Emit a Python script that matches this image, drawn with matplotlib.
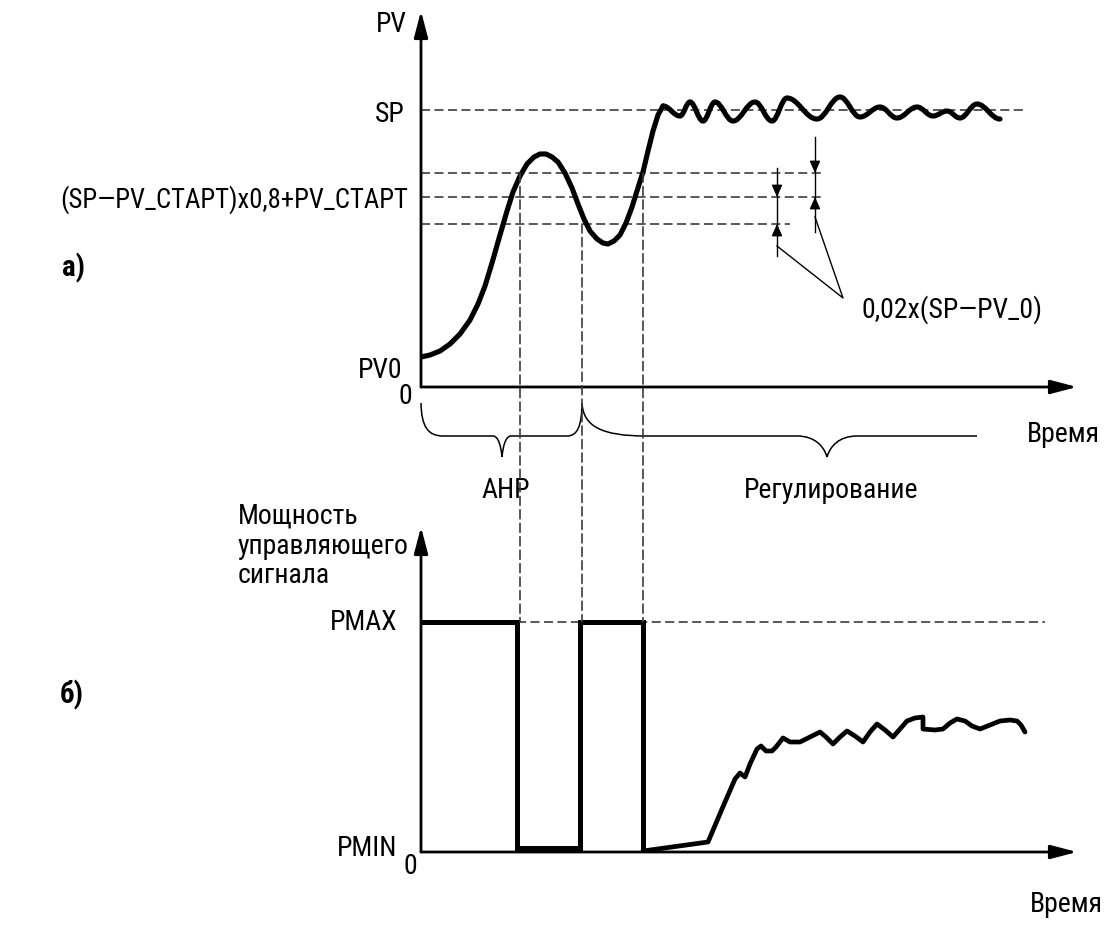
import matplotlib.pyplot as plt
from matplotlib import font_manager
from matplotlib.patches import ConnectionPatch, PathPatch
from matplotlib.path import Path

# ---- значения: время от начала координат, величины от оси времени ----
# а) процесс PV(t): разгон до первого выхода на SP
pv_t = [0, 9, 19, 29, 39, 49, 57, 64, 71, 79, 86, 92, 99, 106, 113, 119, 125, 131, 137, 144,
        151, 157, 163, 169, 176, 182, 187, 193, 199, 205, 211, 216, 222, 227, 232, 237, 242]
pv_v = [30, 32, 36, 43, 53, 67, 83, 101, 124, 152, 176, 195, 211, 223, 230, 233, 233, 230, 225, 214,
        199, 183, 168, 156, 148, 144, 143, 146, 152, 164, 180, 196, 215, 236, 256, 272, 281]
# колебания около SP (вершины и впадины)
osc_t = [242, 259, 269, 282, 294, 312, 334, 351, 366, 396, 419, 439, 459, 476, 496, 512, 526, 539, 556, 579]
osc_v = [281, 271, 285, 266, 285, 266, 285, 266, 289, 268, 290, 270, 280, 269, 280, 271, 276, 269, 283, 268]
SP = 277
band = [214, 190, 163]          # верх, (SP-PV_СТАРТ)x0,8+PV_СТАРТ, низ
band_end = [401, 401, 369]
switch_t = [99, 161, 222]       # переключения при АНР
switch_lvl = [214, 163, 214]

# б) мощность управляющего сигнала
PMAX = 230
pulse_t = [0, 96, 96, 159, 159, 222, 222]
pulse_p = [230, 230, 4, 4, 230, 230, 1]
pw_t = [222, 287, 301, 314, 319, 324, 329, 336, 340, 345, 351, 355, 362, 369, 379, 389, 399, 405, 412, 419,
        426, 434, 442, 449, 456, 464, 472, 479, 486, 494, 502, 502, 514, 522, 529, 536, 544, 551, 559, 569,
        579, 589, 596, 600, 604]
pw_p = [1, 10, 43, 73, 79, 75, 88, 103, 106, 101, 101, 105, 114, 110, 110, 115, 120, 115, 108, 115,
        121, 116, 110, 120, 128, 122, 115, 123, 131, 134, 135, 123, 122, 123, 129, 133, 131, 126, 123, 127,
        131, 132, 131, 127, 120]

# этапы
phases = ['АНР', 'Регулирование']
phase_t0 = [0, 161]
phase_t1 = [161, 556]
phase_tip = [81, 406]

names = {f.name for f in font_manager.fontManager.ttflist}
narrow = [n for n in ['Liberation Sans Narrow', 'Roboto Condensed', 'DejaVu Sans Condensed'] if n in names]
FONT = narrow[0] if narrow else 'Liberation Sans'
FS = 20 if narrow else 17
plt.rcParams['font.family'] = [FONT, 'DejaVu Sans']
plt.rcParams['font.size'] = FS
plt.rcParams['lines.scale_dashes'] = False

DASH = dict(ls=(0, (6.5, 3.2)), lw=1.2, color='#3c3c3c')
W, H = 1113, 928
fig = plt.figure(figsize=(W / 100, H / 100), dpi=100)
ax_a = fig.add_axes([421 / W, 1 - 388 / H, 656 / W, 376 / H])
ax_b = fig.add_axes([421 / W, 1 - 853 / H, 656 / W, 325 / H])
for ax, top in ((ax_a, 376), (ax_b, 325)):
    ax.set_xlim(0, 656)
    ax.set_ylim(0, top)
    ax.axis('off')
    for end in ((656, 0), (0, top)):
        ax.annotate('', xy=end, xytext=(0, 0), annotation_clip=False,
                    arrowprops=dict(arrowstyle='-|>,head_length=1.6,head_width=0.42', mutation_scale=10,
                                    lw=2, color='k', shrinkA=0, shrinkB=0))

# --- а) ---
ax_a.plot([0, 606], [SP, SP], **DASH)
for lvl, e in zip(band, band_end):
    ax_a.plot([0, e], [lvl, lvl], **DASH)
ax_a.plot(pv_t, pv_v, color='k', lw=3.7, solid_joinstyle='round', solid_capstyle='round', zorder=3)
# гладкая волна через вершины/впадины (горизонтальные касательные)
verts = [(osc_t[0], osc_v[0])]
for ta, va, tb, vb in zip(osc_t[:-1], osc_v[:-1], osc_t[1:], osc_v[1:]):
    k = 0.38 * (tb - ta)
    verts += [(ta + k, va), (tb - k, vb), (tb, vb)]
codes = [Path.MOVETO] + [Path.CURVE4] * (len(verts) - 1)
ax_a.add_patch(PathPatch(Path(verts, codes), fill=False, lw=3.7, ec='k', capstyle='round', zorder=3))

small = dict(arrowstyle='-|>,head_length=0.72,head_width=0.32', mutation_scale=10,
             lw=1, color='k', shrinkA=0, shrinkB=0)
for x, y0, y1, down, up in ((356, 219, 131, band[1], band[2]), (394, 250, 155, band[0], band[1])):
    ax_a.plot([x, x], [y0, y1], color='k', lw=1)
    ax_a.annotate('', xy=(x, down), xytext=(x, down + 11), arrowprops=small)
    ax_a.annotate('', xy=(x, up), xytext=(x, up - 11), arrowprops=small)
ax_a.plot([356, 422, 394], [141, 89, 170], color='k', lw=1)
ax_a.text(441, 78, '0,02x(SP—PV_0)', va='center', ha='left')

ax_a.text(-14, 364, 'PV', ha='right', va='center')
ax_a.text(-16, SP - 3, 'SP', ha='right', va='center')
ax_a.text(-13, band[1] - 2, '(SP—PV_СТАРТ)x0,8+PV_СТАРТ', ha='right', va='center', fontsize=FS * 0.965)
ax_a.text(-19, 17, 'PV0', ha='right', va='center')
ax_a.text(-16, -8, '0', ha='center', va='center')
ax_a.text(-348, 120, 'а)', ha='center', va='center', fontweight='bold', fontsize=FS * 1.05)
ax_a.text(606, -46, 'Время', ha='left', va='center')

# фигурные скобки этапов
top, mid, dep = -16, -49, -70
hook_l = [22, 64]
hook_r = [15, 0]
tip_w = [9, 30]
for name, t0, t1, tip, hl, hr, w in zip(phases, phase_t0, phase_t1, phase_tip, hook_l, hook_r, tip_w):
    verts = [(t0, top), (t0 + 0.02 * hl, top + 0.7 * (mid - top)), (t0 + 0.3 * hl, mid), (t0 + hl, mid),
             (tip - w, mid),
             (tip - 0.4 * w, mid), (tip - 0.1 * w, mid + 0.5 * (dep - mid)), (tip, dep),
             (tip + 0.1 * w, mid + 0.5 * (dep - mid)), (tip + 0.4 * w, mid), (tip + w, mid),
             (t1 - hr, mid)]
    codes = [Path.MOVETO, Path.CURVE4, Path.CURVE4, Path.CURVE4, Path.LINETO,
             Path.CURVE4, Path.CURVE4, Path.CURVE4, Path.CURVE4, Path.CURVE4, Path.CURVE4, Path.LINETO]
    if hr:
        verts += [(t1 - 0.3 * hr, mid), (t1 - 0.02 * hr, top + 0.7 * (mid - top)), (t1, top)]
        codes += [Path.CURVE4] * 3
    ax_a.add_patch(PathPatch(Path(verts, codes), fill=False, lw=1.1, ec='k', clip_on=False))
    ax_a.text(tip + 4, -102, name, ha='center', va='center')

# --- б) ---
ax_b.plot([96, 624], [PMAX, PMAX], **DASH)
ax_b.plot(pulse_t, pulse_p, color='k', lw=3.6, solid_joinstyle='miter', zorder=3)
ax_b.plot(pw_t, pw_p, color='k', lw=3.4, solid_joinstyle='round', solid_capstyle='round', zorder=3)
for t, lvl in zip(switch_t, switch_lvl):
    fig.add_artist(ConnectionPatch(xyA=(t, lvl), coordsA=ax_a.transData,
                                   xyB=(t, PMAX), coordsB=ax_b.transData, **DASH))

ax_b.text(-183, 307, 'Мощность\nуправляющего\nсигнала', ha='left', va='center', linespacing=1.12)
ax_b.text(-24, PMAX, 'PMAX', ha='right', va='center')
ax_b.text(-24, 4, 'PMIN', ha='right', va='center')
ax_b.text(-11, -13, '0', ha='center', va='center')
ax_b.text(-349, 158, 'б)', ha='center', va='center', fontweight='bold', fontsize=FS * 1.05)
ax_b.text(609, -52, 'Время', ha='left', va='center')

fig.savefig('out.png', dpi=100, facecolor='white')
